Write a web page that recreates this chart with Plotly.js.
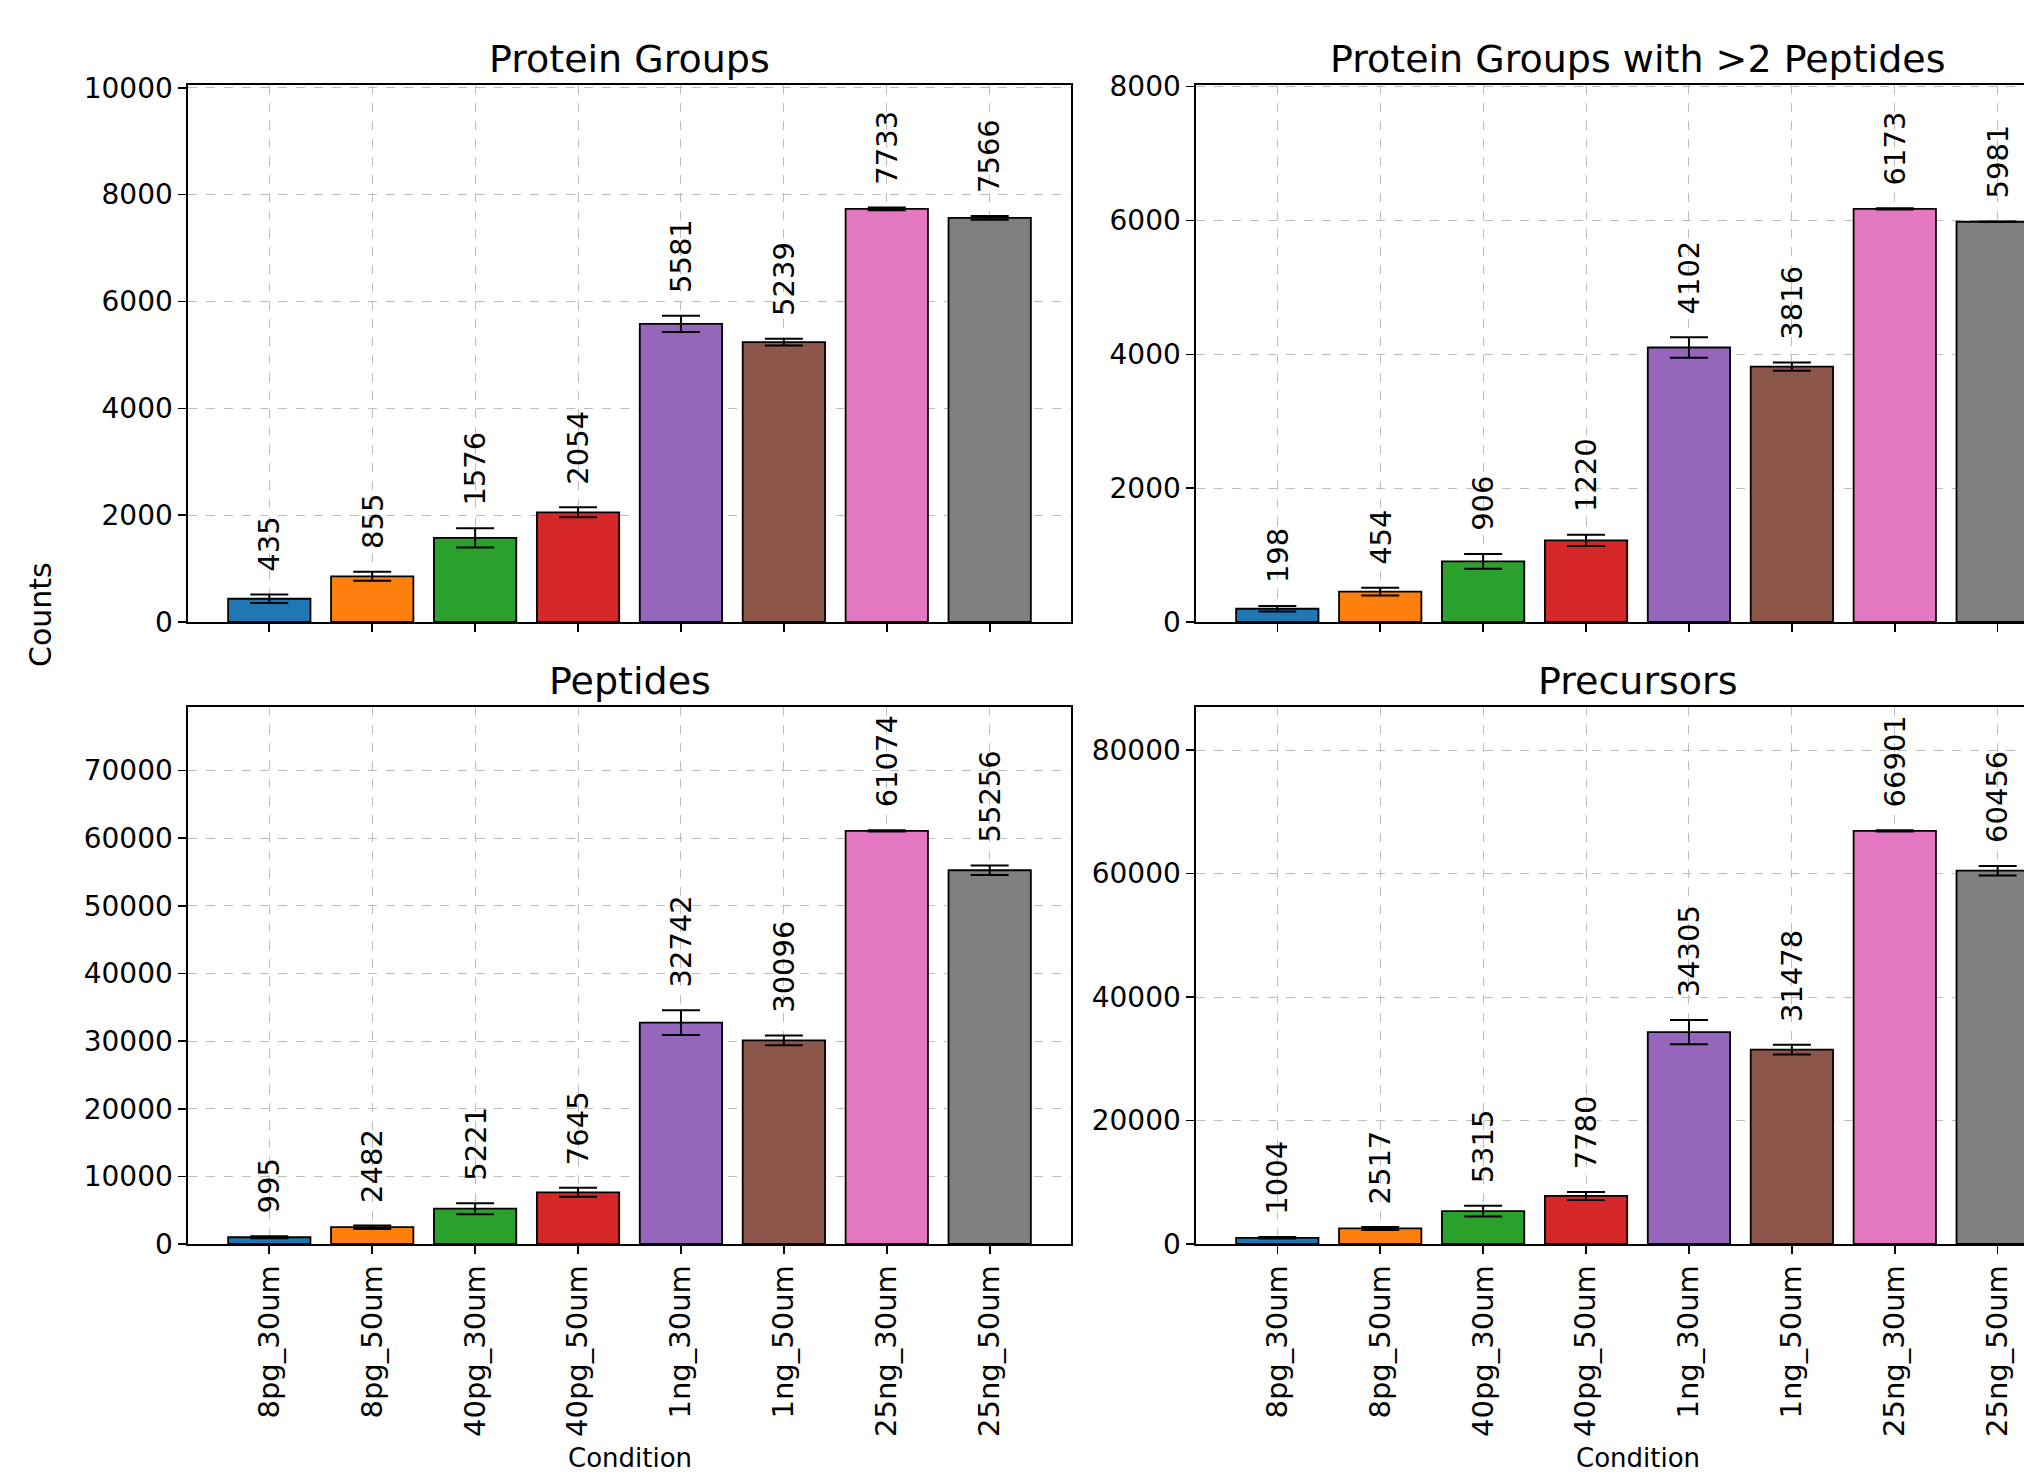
<!DOCTYPE html>
<html>
<head>
<meta charset="utf-8">
<script src="https://cdn.plot.ly/plotly-3.0.1.min.js"></script>
<style>
  html, body { margin: 0; padding: 0; overflow: hidden; background: #ffffff; }
  #chart { width: 2100px; height: 1475px; }
</style>
</head>
<body>
<div id="chart"></div>
<script>
// ---- data ----
const categories = ['8pg_30um', '8pg_50um', '40pg_30um', '40pg_50um', '1ng_30um', '1ng_50um', '25ng_30um', '25ng_50um'];
const barColors = ['#1f77b4', '#ff7f0e', '#2ca02c', '#d62728', '#9467bd', '#8c564b', '#e377c2', '#7f7f7f'];

const proteinGroups = [435, 855, 1576, 2054, 5581, 5239, 7733, 7566];
const proteinGroupsErr = [78, 84, 181, 94, 153, 65, 25, 35];

const proteinGroups2Pep = [198, 454, 906, 1220, 4102, 3816, 6173, 5981];
const proteinGroups2PepErr = [42, 57, 112, 85, 154, 62, 10, 5];

const peptides = [995, 2482, 5221, 7645, 32742, 30096, 61074, 55256];
const peptidesErr = [150, 270, 813, 666, 1824, 715, 100, 715];

const precursors = [1004, 2517, 5315, 7780, 34305, 31478, 66901, 60456];
const precursorsErr = [120, 250, 860, 657, 1970, 780, 100, 780];

const panelTitles = ['Protein Groups', 'Protein Groups with >2 Peptides', 'Peptides', 'Precursors'];
const yTickStep = [2000, 2000, 10000, 20000];
const yLabel = 'Counts';
const xLabel = 'Condition';

// ---- layout geometry (pixels) ----
const W = 2100, H = 1475;
const colX = [[188, 1071], [1196, 2079]];
const rowY = [[85, 622], [707, 1244]];

const panels = [
  {vals: proteinGroups, errs: proteinGroupsErr, col: 0, row: 0},
  {vals: proteinGroups2Pep, errs: proteinGroups2PepErr, col: 1, row: 0},
  {vals: peptides, errs: peptidesErr, col: 0, row: 1},
  {vals: precursors, errs: precursorsErr, col: 1, row: 1}
];

const traces = [];
const annotations = [];
const layout = {
  width: W, height: H,
  margin: {l: 0, r: 0, t: 0, b: 0},
  paper_bgcolor: '#ffffff',
  plot_bgcolor: '#ffffff',
  showlegend: false,
  font: {family: 'DejaVu Sans', color: '#000000', size: 28},
  bargap: 0.2,
  annotations: annotations
};

const fs = 'DejaVu Sans';

panels.forEach((p, i) => {
  const n = i + 1;
  const xa = 'x' + (n === 1 ? '' : n);
  const ya = 'y' + (n === 1 ? '' : n);
  const xKey = 'xaxis' + (n === 1 ? '' : n);
  const yKey = 'yaxis' + (n === 1 ? '' : n);
  const maxV = Math.max(...p.vals);
  const ymax = maxV * 1.3;
  const off = maxV * 0.05;

  traces.push({
    type: 'bar',
    x: categories,
    y: p.vals,
    width: 0.8,
    xaxis: xa, yaxis: ya,
    marker: {color: barColors, line: {color: '#000000', width: 1.8}},
    error_y: {type: 'data', array: p.errs, visible: true, color: '#000000', thickness: 2, width: 19},
    hoverinfo: 'x+y'
  });

  const xd = [colX[p.col][0] / W, colX[p.col][1] / W];
  const yd = [1 - rowY[p.row][1] / H, 1 - rowY[p.row][0] / H];

  layout[xKey] = {
    domain: xd, anchor: ya, type: 'category',
    categoryorder: 'array', categoryarray: categories,
    range: [-0.79, 7.79],
    showline: true, mirror: true, linecolor: '#000000', linewidth: 1.6,
    ticks: 'outside', ticklen: 8, tickwidth: 1.6, tickcolor: '#000000',
    showgrid: true, gridcolor: '#bdbdbd', griddash: 'dash', gridwidth: 1,
    zeroline: false,
    showticklabels: p.row === 1,
    tickangle: -90,
    tickfont: {family: fs, size: 29, color: '#000000'},
    fixedrange: true
  };
  const tv = [];
  for (let t = 0; t <= ymax; t += yTickStep[i]) tv.push(t);
  layout[yKey] = {
    domain: yd, anchor: xa,
    range: [0, ymax],
    tickvals: tv, tickformat: 'd',
    showline: true, mirror: true, linecolor: '#000000', linewidth: 1.6,
    ticks: 'outside', ticklen: 8, tickwidth: 1.6, tickcolor: '#000000',
    showgrid: true, gridcolor: '#bdbdbd', griddash: 'dash', gridwidth: 1,
    zeroline: false,
    tickfont: {family: fs, size: 28, color: '#000000'},
    fixedrange: true
  };

  // value labels above error bars
  p.vals.forEach((v, k) => {
    annotations.push({
      xref: xa, yref: ya, x: categories[k], y: v + p.errs[k] + off,
      text: String(v), showarrow: false, textangle: -90,
      xanchor: 'center', yanchor: 'bottom',
      font: {family: fs, size: 29, color: '#000000'}
    });
  });

  // panel title
  annotations.push({
    xref: 'paper', yref: 'paper', x: (xd[0] + xd[1]) / 2, y: yd[1],
    text: panelTitles[i], showarrow: false, xanchor: 'center', yanchor: 'bottom', yshift: 2,
    font: {family: fs, size: 38, color: '#000000'}
  });

  // x label for bottom row
  if (p.row === 1) {
    annotations.push({
      xref: 'paper', yref: 'paper', x: (xd[0] + xd[1]) / 2, y: 0,
      text: xLabel, showarrow: false, xanchor: 'center', yanchor: 'bottom',
      font: {family: fs, size: 26, color: '#000000'}
    });
  }
});

annotations.push({
  xref: 'paper', yref: 'paper', x: 40 / W, y: 1 - 615 / H,
  text: yLabel, showarrow: false, textangle: -90, xanchor: 'center', yanchor: 'middle',
  font: {family: fs, size: 30, color: '#000000'}
});

Plotly.newPlot('chart', traces, layout, {displayModeBar: false, staticPlot: true});
</script>
</body>
</html>
